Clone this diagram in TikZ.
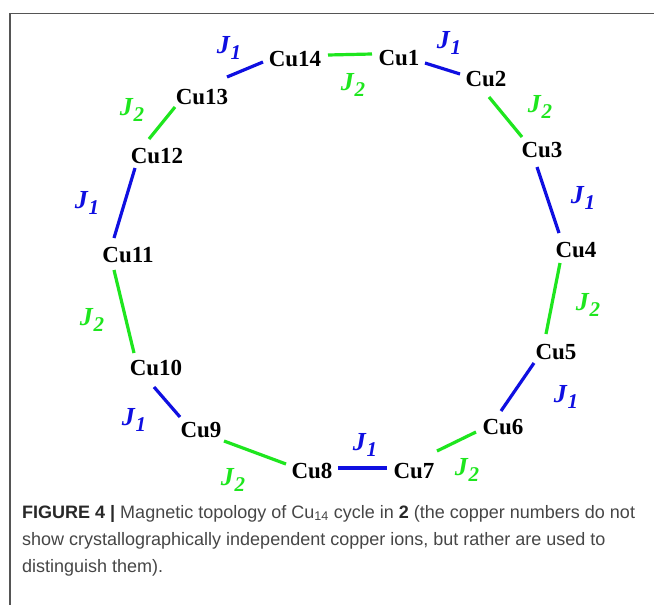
\documentclass[tikz,border=0pt]{standalone}
\usepackage{fontspec}
\setmainfont{Liberation Serif}
\newfontfamily\capfont{Liberation Sans}
\usetikzlibrary{calc}
\definecolor{jblue}{RGB}{15,15,225}
\definecolor{jgreen}{RGB}{30,230,30}
\definecolor{framegray}{RGB}{85,85,85}
\definecolor{captext}{RGB}{70,70,70}
\definecolor{capbold}{RGB}{40,40,40}
\newcommand{\jlab}[1]{\textbf{\textit{J}}\raisebox{-6pt}{\fontsize{21}{21}\selectfont\textbf{\textit{#1}}}}
\begin{document}
\begin{tikzpicture}[x=1pt,y=-1pt,
  cu/.style={font=\bfseries\fontsize{23}{23}\selectfont, inner sep=0pt},
  jl/.style={font=\fontsize{26}{26}\selectfont, inner sep=0pt},
  bond/.style={line width=3.2pt},
  jone/.style={bond, draw=jblue},
  jtwo/.style={bond, draw=jgreen},
  captxt/.style={anchor=base west, inner sep=0pt, text=captext, font=\capfont\fontsize{18}{18}\selectfont}]
\useasboundingbox (0,0) rectangle (654,605);
\fill[white] (0,0) rectangle (654,605);
\draw[framegray, line width=1.5pt] (10,605) -- (10,13.5) -- (654,13.5);
% copper nodes
\node[cu] (cu1) at (399,58) {Cu1};
\node[cu] (cu2) at (486,79) {Cu2};
\node[cu] (cu3) at (542,150) {Cu3};
\node[cu] (cu4) at (576,250) {Cu4};
\node[cu] (cu5) at (556,352) {Cu5};
\node[cu] (cu6) at (503,427) {Cu6};
\node[cu] (cu7) at (414,471) {Cu7};
\node[cu] (cu8) at (312,471) {Cu8};
\node[cu] (cu9) at (201,430) {Cu9};
\node[cu] (cu10) at (156,368) {Cu10};
\node[cu] (cu11) at (128,255) {Cu11};
\node[cu] (cu12) at (157,156) {Cu12};
\node[cu] (cu13) at (202,97) {Cu13};
\node[cu] (cu14) at (295,59) {Cu14};
% bonds
\draw[jtwo] ($(cu14)+(33,-4)$) -- ($(cu1)+(-27,-4)$);
\draw[jone] ($(cu1)+(26,5)$) -- ($(cu2)+(-26,-5)$);
\draw[jtwo] ($(cu2)+(3,18)$) -- ($(cu3)+(-20,-13)$);
\draw[jone] ($(cu3)+(-5,17)$) -- ($(cu4)+(-17,-17)$);
\draw[jtwo] ($(cu4)+(-16,13)$) -- ($(cu5)+(-10,-18)$);
\draw[jone] ($(cu5)+(-22,11)$) -- ($(cu6)+(-2,-16)$);
\draw[jtwo] ($(cu6)+(-27,5)$) -- ($(cu7)+(23,-20)$);
\draw[jone] ($(cu7)+(-27,-3)$) -- ($(cu8)+(26,-3)$);
\draw[jtwo] ($(cu8)+(-26,-7)$) -- ($(cu9)+(23,11)$);
\draw[jone] ($(cu9)+(-21,-13)$) -- ($(cu10)+(-2,19)$);
\draw[jtwo] ($(cu10)+(-22,-15)$) -- ($(cu11)+(-14,15)$);
\draw[jone] ($(cu11)+(-14,-17)$) -- ($(cu12)+(-22,12)$);
\draw[jtwo] ($(cu12)+(-8,-17)$) -- ($(cu13)+(-27,10)$);
\draw[jone] ($(cu13)+(25,-20)$) -- ($(cu14)+(-32,3)$);
% coupling labels
\node[jl, text=jblue]  (l1)  at (229,48)  {\jlab{1}};
\node[jl, text=jgreen] (l2)  at (353,85)  {\jlab{2}};
\node[jl, text=jblue]  (l3)  at (449,43)  {\jlab{1}};
\node[jl, text=jgreen] (l4)  at (540,107) {\jlab{2}};
\node[jl, text=jblue]  (l5)  at (583,198) {\jlab{1}};
\node[jl, text=jgreen] (l6)  at (588,305) {\jlab{2}};
\node[jl, text=jblue]  (l7)  at (566,397) {\jlab{1}};
\node[jl, text=jgreen] (l8)  at (467,470) {\jlab{2}};
\node[jl, text=jblue]  (l9)  at (365,445) {\jlab{1}};
\node[jl, text=jgreen] (l10) at (233,480) {\jlab{2}};
\node[jl, text=jblue]  (l11) at (134,420) {\jlab{1}};
\node[jl, text=jgreen] (l12) at (92,320)  {\jlab{2}};
\node[jl, text=jblue]  (l13) at (87,203)  {\jlab{1}};
\node[jl, text=jgreen] (l14) at (132,110) {\jlab{2}};
% caption
\node[captxt] (cap1) at (22,518) {\textcolor{capbold}{\textbf{FIGURE 4 |}} Magnetic topology of Cu\textsubscript{14} cycle in \textcolor{capbold}{\textbf{2}} (the copper numbers do not};
\node[captxt] (cap2) at (22,545) {show crystallographically independent copper ions, but rather are used to};
\node[captxt] (cap3) at (22,572) {distinguish them).};
\end{tikzpicture}
\end{document}
